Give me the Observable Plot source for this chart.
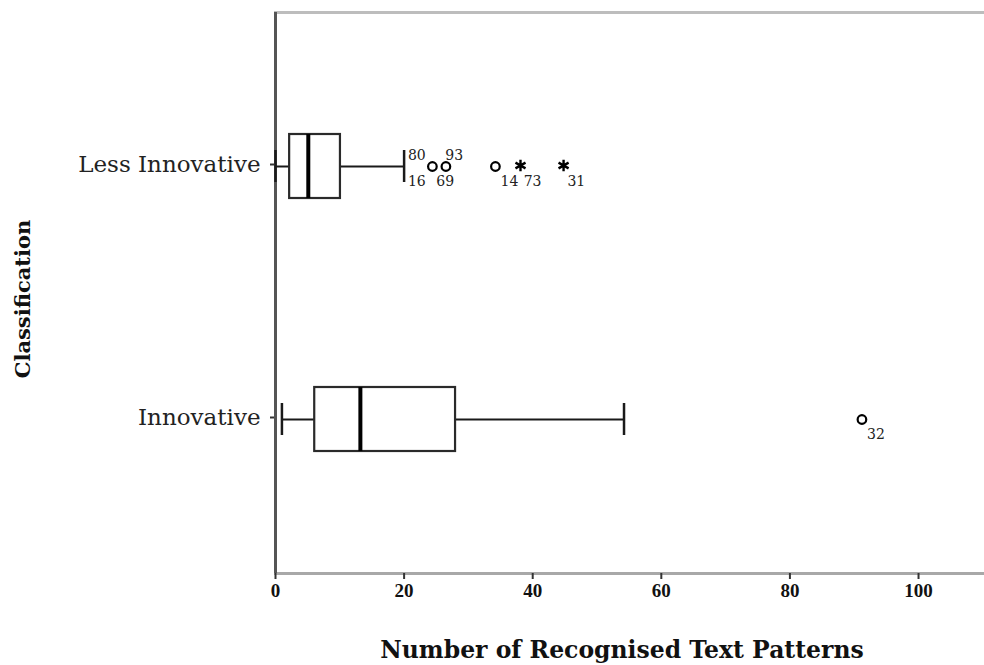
<!DOCTYPE html>
<html><head><meta charset="utf-8">
<script src="https://cdn.jsdelivr.net/npm/d3@7"></script>
<script src="https://cdn.jsdelivr.net/npm/@observablehq/plot@0.6"></script>
<style>body{margin:0;background:#fff;overflow:hidden}</style>
</head><body><div id="chart"></div>
<script>
// ---- data ----
const categories = ["Less Innovative", "Innovative"];
const whiskerLow = [0, 1];
const q1 = [2.2, 6.1];
const median = [5.1, 13.2];
const q3 = [10.1, 28];
const whiskerHigh = [20, 54.2];

const outlierCategory = ["Less Innovative", "Less Innovative", "Less Innovative", "Less Innovative", "Less Innovative", "Innovative"];
const outlierValue = [24.4, 26.5, 34.2, 38.1, 44.8, 91.2];
const outlierKind = ["mild", "mild", "mild", "extreme", "extreme", "mild"];

const caseLabel = ["80", "16", "93", "69", "14", "73", "31", "32"];
const caseLabelCategory = ["Less Innovative", "Less Innovative", "Less Innovative", "Less Innovative", "Less Innovative", "Less Innovative", "Less Innovative", "Innovative"];
const caseLabelValue = [20.6, 20.6, 26.4, 25.0, 35.0, 38.6, 45.4, 92.0];
const caseLabelSide = ["above", "below", "above", "below", "below", "below", "below", "below"];

const xTicks = [0, 20, 40, 60, 80, 100];
const xTitle = "Number of Recognised Text Patterns";
const yTitle = "Classification";

// ---- tables ----
const boxes = categories.map((c, i) => ({
  category: c, lo: whiskerLow[i], q1: q1[i], med: median[i], q3: q3[i], hi: whiskerHigh[i]
}));
const caps = boxes.flatMap(b => [{category: b.category, x: b.lo}, {category: b.category, x: b.hi}]);
const outliers = outlierValue.map((v, i) => ({category: outlierCategory[i], x: v, kind: outlierKind[i]}));
const labels = caseLabel.map((t, i) => ({text: t, category: caseLabelCategory[i], x: caseLabelValue[i], side: caseLabelSide[i]}));

const serif = "DejaVu Serif";
const ink = "#1a1a1a";

const chart = Plot.plot({
  width: 984,
  height: 665,
  marginLeft: 275,
  marginRight: 0,
  marginTop: 12,
  marginBottom: 92,
  style: {background: "#fff", overflow: "visible"},
  x: {domain: [0, 110.26]},
  y: {type: "band", domain: categories, paddingInner: 0.747, paddingOuter: 0.482, align: 0.5},
  marks: [
    Plot.frame({anchor: "top", stroke: "#bdbdbd", strokeWidth: 3}),
    Plot.frame({anchor: "bottom", stroke: "#a8a8a8", strokeWidth: 3}),
    Plot.axisX({ticks: xTicks, tickSize: 6, tickPadding: 4, tickFormat: d => String(d),
      fontFamily: "Liberation Serif", fontWeight: "bold", fontSize: 19, stroke: "#333", strokeWidth: 2, fill: "#111", label: null}),
    Plot.axisY({tickSize: 5, tickPadding: 10, dy: -2, fontFamily: serif, fontSize: 23, fill: "#222", stroke: "#333", strokeWidth: 2, label: null}),
    Plot.ruleX([0], {stroke: "#555", strokeWidth: 3}),
    // whiskers
    Plot.ruleY(boxes, {y: "category", x1: "lo", x2: "q1", stroke: ink, strokeWidth: 2}),
    Plot.ruleY(boxes, {y: "category", x1: "q3", x2: "hi", stroke: ink, strokeWidth: 2}),
    Plot.tickX(caps, {y: "category", x: "x", stroke: ink, strokeWidth: 2.5, insetTop: 16, insetBottom: 16}),
    // boxes
    Plot.barX(boxes, {y: "category", x1: "q1", x2: "q3", fill: "white", stroke: "#2a2a2a", strokeWidth: 2.2}),
    Plot.tickX(boxes, {y: "category", x: "med", stroke: "#000", strokeWidth: 4}),
    // outliers
    Plot.dot(outliers.filter(d => d.kind === "mild"), {y: "category", x: "x", symbol: "circle", r: 4.3, stroke: "#000", strokeWidth: 2.2, fill: "white"}),
    Plot.dot(outliers.filter(d => d.kind === "extreme"), {y: "category", x: "x", symbol: "asterisk", r: 5.5, stroke: "#000", strokeWidth: 2.4, dy: -1}),
    // case labels
    Plot.text(labels.filter(d => d.side === "above"), {y: "category", x: "x", text: "text", textAnchor: "start", dy: -11, fontFamily: serif, fontSize: 14, fill: "#222"}),
    Plot.text(labels.filter(d => d.side === "below"), {y: "category", x: "x", text: "text", textAnchor: "start", dy: 15, fontFamily: serif, fontSize: 14, fill: "#222"}),
    // axis titles
    Plot.text([xTitle], {frameAnchor: "bottom", textAnchor: "middle", dx: -8, dy: 84, fontFamily: serif, fontWeight: "bold", fontSize: 23.5, fill: "#111"}),
    Plot.text([yTitle], {frameAnchor: "left", textAnchor: "middle", dx: -252, dy: 6, rotate: -90, fontFamily: serif, fontWeight: "bold", fontSize: 21, fill: "#111"})
  ]
});
document.getElementById("chart").appendChild(chart);
</script>
</body></html>
